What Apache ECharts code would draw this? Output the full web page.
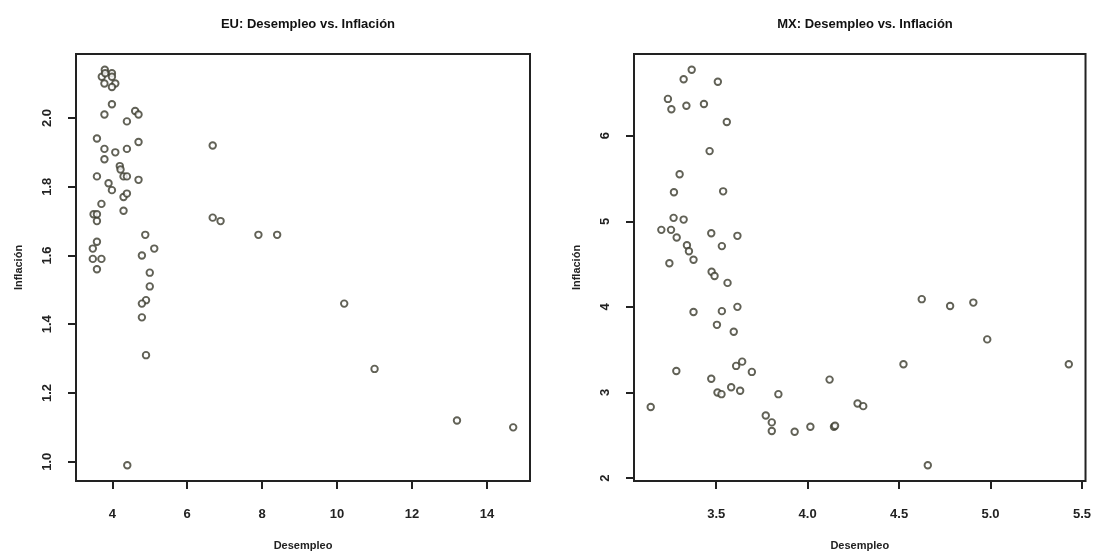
<!DOCTYPE html>
<html>
<head>
<meta charset="utf-8">
<script src="https://cdn.jsdelivr.net/npm/echarts@6/dist/echarts.min.js"></script>
<style>html,body{margin:0;padding:0;background:#fff}#c{width:1094px;height:556px}</style>
</head>
<body>
<div id="c"></div>
<script>
// EU data
const euDesempleo = [3.8,3.99,3.72,3.99,3.81,3.79,4.08,3.99,3.99,3.79,4.61,4.70,4.39,3.59,3.79,4.08,4.39,4.70,6.68,3.79,4.20,4.22,3.59,4.30,4.39,4.70,3.90,3.99,4.30,4.39,3.71,3.50,3.59,3.59,4.30,6.68,6.89,3.59,3.48,3.48,3.71,3.59,4.88,5.12,4.79,5.00,5.00,4.90,4.79,4.79,4.90,4.40,7.90,8.40,10.19,11.0,13.2,14.7];
const euInflacion = [2.14,2.13,2.12,2.12,2.13,2.10,2.10,2.09,2.04,2.01,2.02,2.01,1.99,1.94,1.91,1.90,1.91,1.93,1.92,1.88,1.86,1.85,1.83,1.83,1.83,1.82,1.81,1.79,1.77,1.78,1.75,1.72,1.72,1.70,1.73,1.71,1.70,1.64,1.62,1.59,1.59,1.56,1.66,1.62,1.60,1.55,1.51,1.47,1.46,1.42,1.31,0.99,1.66,1.66,1.46,1.27,1.12,1.10];
// MX data
const mxDesempleo = [3.366,3.322,3.509,3.236,3.255,3.337,3.433,3.558,3.464,3.300,3.269,3.538,3.267,3.322,3.200,3.253,3.284,3.473,3.616,3.340,3.351,3.531,3.376,3.244,3.475,3.491,3.562,3.616,3.376,3.531,3.504,3.596,3.142,3.282,3.473,3.609,3.642,3.695,3.507,3.529,3.582,3.631,3.84,3.771,3.804,3.804,3.929,4.015,4.144,4.150,4.120,4.273,4.304,4.524,4.624,4.657,4.779,4.906,4.982,5.428];
const mxInflacion = [6.77,6.66,6.63,6.43,6.31,6.35,6.37,6.16,5.82,5.55,5.34,5.35,5.04,5.02,4.90,4.90,4.81,4.86,4.83,4.72,4.65,4.71,4.55,4.51,4.41,4.36,4.28,4.00,3.94,3.95,3.79,3.71,2.83,3.25,3.16,3.31,3.36,3.24,3.00,2.98,3.06,3.02,2.98,2.73,2.65,2.55,2.54,2.60,2.60,2.61,3.15,2.87,2.84,3.33,4.09,2.15,4.01,4.05,3.62,3.33];
// tick labels
const euXTicks = [4,6,8,10,12,14];
const euYTicks = [1.0,1.2,1.4,1.6,1.8,2.0];
const mxXTicks = [3.5,4.0,4.5,5.0,5.5];
const mxYTicks = [2,3,4,5,6];

function ext(arr){const mn=Math.min(...arr),mx=Math.max(...arr),r=mx-mn;return [mn-0.04*r,mx+0.04*r];}
const zip=(a,b)=>a.map((v,i)=>[v,b[i]]);

const font = "'Liberation Sans Narrow','Liberation Sans',Arial,sans-serif";
const tickLabel = {color:'#222',fontFamily:font,fontWeight:'bold',fontSize:13};

function xAxis(idx, arr, ticks, fmt){
  const e=ext(arr);
  return {type:'value',gridIndex:idx,min:e[0],max:e[1],
    name:'Desempleo',nameLocation:'middle',nameGap:59,
    nameTextStyle:{fontFamily:font,fontWeight:'bold',fontSize:11,color:'#222'},
    axisLine:{show:false},splitLine:{show:false},
    axisTick:{show:true,inside:false,length:8,customValues:ticks,lineStyle:{color:'#222',width:2}},
    axisLabel:Object.assign({customValues:ticks,margin:27,formatter:fmt},tickLabel)};
}
function yAxis(idx, arr, ticks, fmt){
  const e=ext(arr);
  return {type:'value',gridIndex:idx,min:e[0],max:e[1],
    name:'Inflación',nameLocation:'middle',nameGap:52,
    nameTextStyle:{fontFamily:font,fontWeight:'bold',fontSize:11,color:'#222'},
    axisLine:{show:false},splitLine:{show:false},
    axisTick:{show:true,inside:false,length:8,customValues:ticks,lineStyle:{color:'#222',width:2}},
    axisLabel:Object.assign({customValues:ticks,margin:22,rotate:90,formatter:fmt},tickLabel)};
}
const markStyle = {color:'#fff',borderColor:'#3a3a2c',borderWidth:1.9};

const chart = echarts.init(document.getElementById('c'),null,{renderer:'canvas'});
chart.setOption({
  animation:false,
  backgroundColor:'#fff',
  title:[
    {text:'EU: Desempleo vs. Inflación',left:303,top:13,textAlign:'center',textStyle:{fontFamily:font,fontWeight:'bold',fontSize:13,color:'#111'}},
    {text:'MX: Desempleo vs. Inflación',left:860,top:13,textAlign:'center',textStyle:{fontFamily:font,fontWeight:'bold',fontSize:13,color:'#111'}}
  ],
  grid:[
    {left:76,top:54,width:454,height:433,show:true,borderColor:'#222',borderWidth:2,backgroundColor:'transparent'},
    {left:634,top:54,width:452,height:431,show:true,borderColor:'#222',borderWidth:2,backgroundColor:'transparent'}
  ],
  xAxis:[
    xAxis(0,euDesempleo,euXTicks,v=>String(v)),
    xAxis(1,mxDesempleo,mxXTicks,v=>v.toFixed(1))
  ],
  yAxis:[
    yAxis(0,euInflacion,euYTicks,v=>v.toFixed(1)),
    yAxis(1,mxInflacion,mxYTicks,v=>String(v))
  ],
  series:[
    {type:'scatter',xAxisIndex:0,yAxisIndex:0,data:zip(euDesempleo,euInflacion),symbol:'circle',symbolSize:6.5,itemStyle:markStyle},
    {type:'scatter',xAxisIndex:1,yAxisIndex:1,data:zip(mxDesempleo,mxInflacion),symbol:'circle',symbolSize:6.5,itemStyle:markStyle}
  ]
});
</script>
</body>
</html>
